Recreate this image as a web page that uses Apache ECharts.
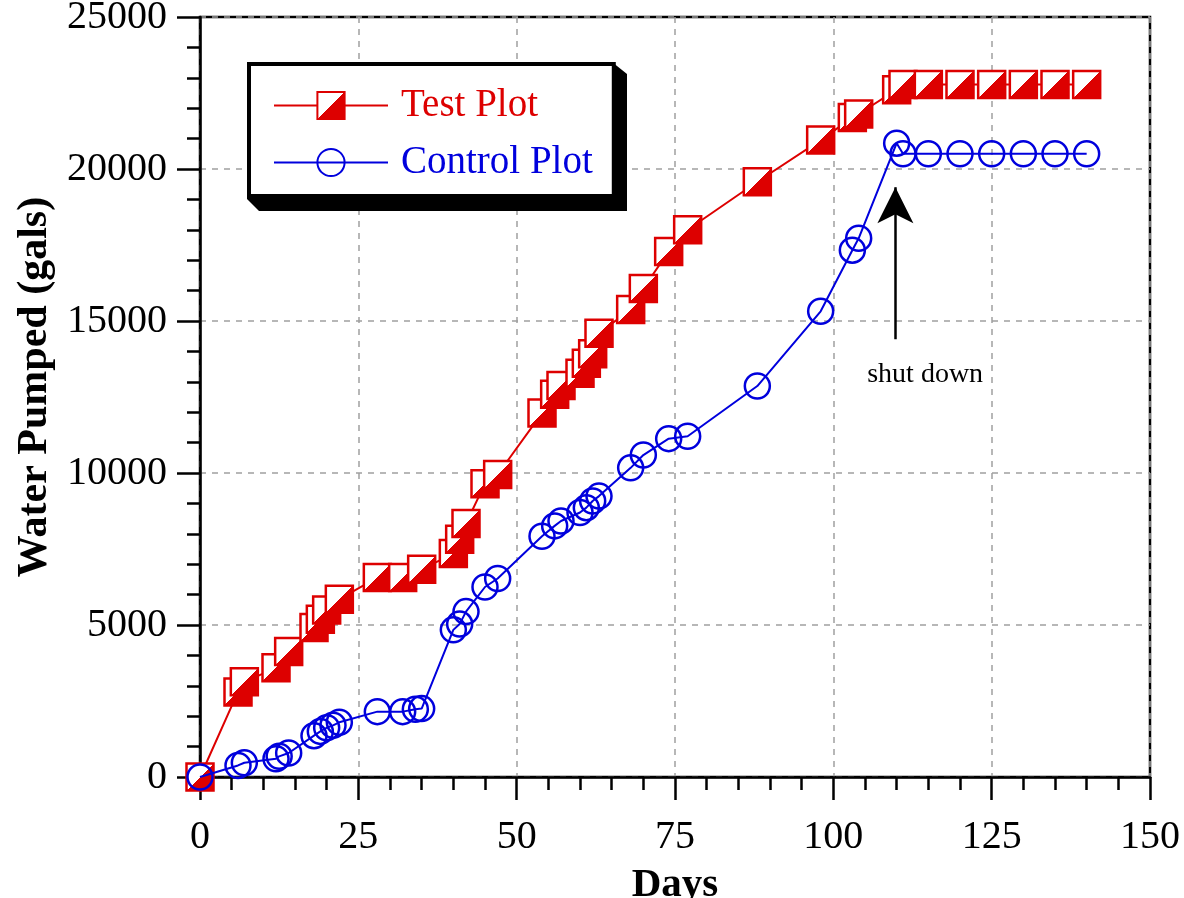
<!DOCTYPE html>
<html>
<head>
<meta charset="utf-8">
<title>Water Pumped</title>
<script src="https://cdn.jsdelivr.net/npm/echarts@6/dist/echarts.min.js"></script>
<style>
  html, body { margin: 0; padding: 0; background: #fff; }
  #chart { width: 1184px; height: 898px; }
</style>
</head>
<body>
<div id="chart"></div>
<script>
// data
var testDays = [0, 6, 7, 12, 14, 18, 19, 20, 22, 28, 32, 35, 40, 41, 42, 45, 47, 54, 56, 57, 60, 61, 62, 63, 68, 70, 74, 77, 88, 98, 103, 104, 110, 111, 115, 120, 125, 130, 135, 140];
var testGals = [0, 2800, 3130, 3590, 4130, 4920, 5190, 5490, 5850, 6560, 6560, 6830, 7350, 7820, 8340, 9650, 9950, 11970, 12590, 12880, 13280, 13610, 13920, 14600, 15380, 16070, 17290, 18000, 19580, 20950, 21690, 21810, 22610, 22780, 22780, 22780, 22780, 22780, 22780, 22780];

var controlDays = [0, 6, 7, 12, 12.5, 14, 18, 19, 20, 21, 22, 28, 32, 34, 35, 40, 41, 42, 45, 47, 54, 56, 57, 60, 61, 62, 63, 68, 70, 74, 77, 88, 98, 103, 104, 110, 111, 115, 120, 125, 130, 135, 140];
var controlGals = [0, 380, 470, 600, 680, 790, 1360, 1500, 1620, 1700, 1800, 2150, 2150, 2230, 2250, 4840, 5030, 5440, 6250, 6530, 7920, 8260, 8420, 8700, 8860, 9080, 9240, 10170, 10590, 11130, 11210, 12860, 15320, 17330, 17720, 20850, 20500, 20500, 20500, 20500, 20500, 20500, 20500];

var shutDownDay = 109.8;
var arrowFrom = 14400;
var arrowTo = 19400;
var noteAt = [114.5, 13250];

var RED = '#dd0000';
var BLUE = '#0000dd';
var FONT = '"Liberation Serif", "Times New Roman", serif';

function pairs(xs, ys) {
  return xs.map(function (x, i) { return [x, ys[i]]; });
}

var myChart = echarts.init(document.getElementById('chart'));

// half white / half red square
var halfFill = new echarts.graphic.LinearGradient(0, 0, 1, 1, [
  { offset: 0, color: '#ffffff' },
  { offset: 0.5, color: '#ffffff' },
  { offset: 0.5, color: RED },
  { offset: 1, color: RED }
]);

var axisBlack = { color: '#000', width: 2.5 };

var option = {
  animation: false,
  backgroundColor: '#fff',
  grid: {
    left: 200,
    right: 34,
    top: 17,
    bottom: 121,
    outerBoundsMode: 'none',
    containLabel: false,
    show: true,
    borderColor: '#000',
    borderWidth: 2.5,
    backgroundColor: 'transparent'
  },
  // the thick 3d edge behind the legend box
  graphic: [{
    type: 'polygon',
    z: 3,
    silent: true,
    shape: { points: [[612, 62], [627, 74], [627, 211], [259, 211], [247, 199], [247, 62]] },
    style: { fill: '#000' }
  }],
  legend: {
    orient: 'vertical',
    left: 249,
    top: 64,
    padding: [22, 21, 14, 24],
    itemWidth: 114,
    itemHeight: 34,
    itemGap: 18,
    selectedMode: false,
    backgroundColor: '#fff',
    borderColor: '#000',
    borderWidth: 4,
    borderRadius: 0,
    z: 4,
    textStyle: {
      fontFamily: FONT,
      fontSize: 39,
      padding: [0, 0, 0, 8]
    },
    data: [
      { name: 'Test Plot', textStyle: { color: RED } },
      { name: 'Control Plot', textStyle: { color: BLUE } }
    ]
  },
  xAxis: {
    type: 'value',
    min: 0,
    max: 150,
    interval: 25,
    name: 'Days',
    nameLocation: 'middle',
    nameGap: 88,
    nameTextStyle: { fontFamily: FONT, fontSize: 41, fontWeight: 'bold', color: '#000' },
    axisLine: { show: true, lineStyle: axisBlack },
    axisTick: { show: true, length: 23, lineStyle: axisBlack },
    minorTick: { show: true, splitNumber: 5, length: 13, lineStyle: axisBlack },
    axisLabel: { fontFamily: FONT, fontSize: 40, color: '#000', margin: 40 },
    splitLine: { show: true, lineStyle: { color: '#a0a0a0', width: 1.5, type: [6, 6] } }
  },
  yAxis: {
    type: 'value',
    min: 0,
    max: 25000,
    interval: 5000,
    name: 'Water Pumped (gals)',
    nameLocation: 'middle',
    nameGap: 142,
    nameTextStyle: {
      fontFamily: FONT, fontSize: 42, fontWeight: 'bold', color: '#000',
      padding: [0, 0, 0, 20]
    },
    axisLine: { show: true, lineStyle: axisBlack },
    axisTick: { show: true, length: 23, lineStyle: axisBlack },
    minorTick: { show: true, splitNumber: 5, length: 13, lineStyle: axisBlack },
    axisLabel: {
      fontFamily: FONT, fontSize: 40, color: '#000', margin: 33,
      formatter: function (v) { return String(v); }
    },
    splitLine: { show: true, lineStyle: { color: '#a0a0a0', width: 1.5, type: [6, 6] } }
  },
  series: [
    {
      name: 'Test Plot',
      type: 'line',
      data: pairs(testDays, testGals),
      symbol: 'rect',
      symbolSize: 27,
      showAllSymbol: true,
      lineStyle: { color: RED, width: 2 },
      itemStyle: { color: halfFill, borderColor: RED, borderWidth: 2.5 },
      emphasis: { disabled: true },
      z: 2
    },
    {
      name: 'Control Plot',
      type: 'line',
      data: pairs(controlDays, controlGals),
      symbol: 'circle',
      symbolSize: 25,
      showAllSymbol: true,
      lineStyle: { color: BLUE, width: 2 },
      itemStyle: { color: 'rgba(0,0,0,0)', borderColor: BLUE, borderWidth: 2.5 },
      emphasis: { disabled: true },
      z: 3,
      markLine: {
        silent: true,
        animation: false,
        symbol: ['none', 'arrow'],
        symbolSize: [27, 36],
        lineStyle: { color: '#000', width: 2.5, type: 'solid' },
        label: { show: false },
        data: [[
          { coord: [shutDownDay, arrowFrom] },
          { coord: [shutDownDay, arrowTo] }
        ]]
      },
      markPoint: {
        silent: true,
        symbol: 'circle',
        symbolSize: 1,
        itemStyle: { color: 'rgba(0,0,0,0)' },
        label: {
          show: true,
          position: 'inside',
          formatter: 'shut down',
          fontFamily: FONT,
          fontSize: 28,
          color: '#000'
        },
        data: [{ coord: noteAt }]
      }
    }
  ]
};

myChart.setOption(option);
window.addEventListener('resize', function () { myChart.resize(); });
</script>
</body>
</html>
